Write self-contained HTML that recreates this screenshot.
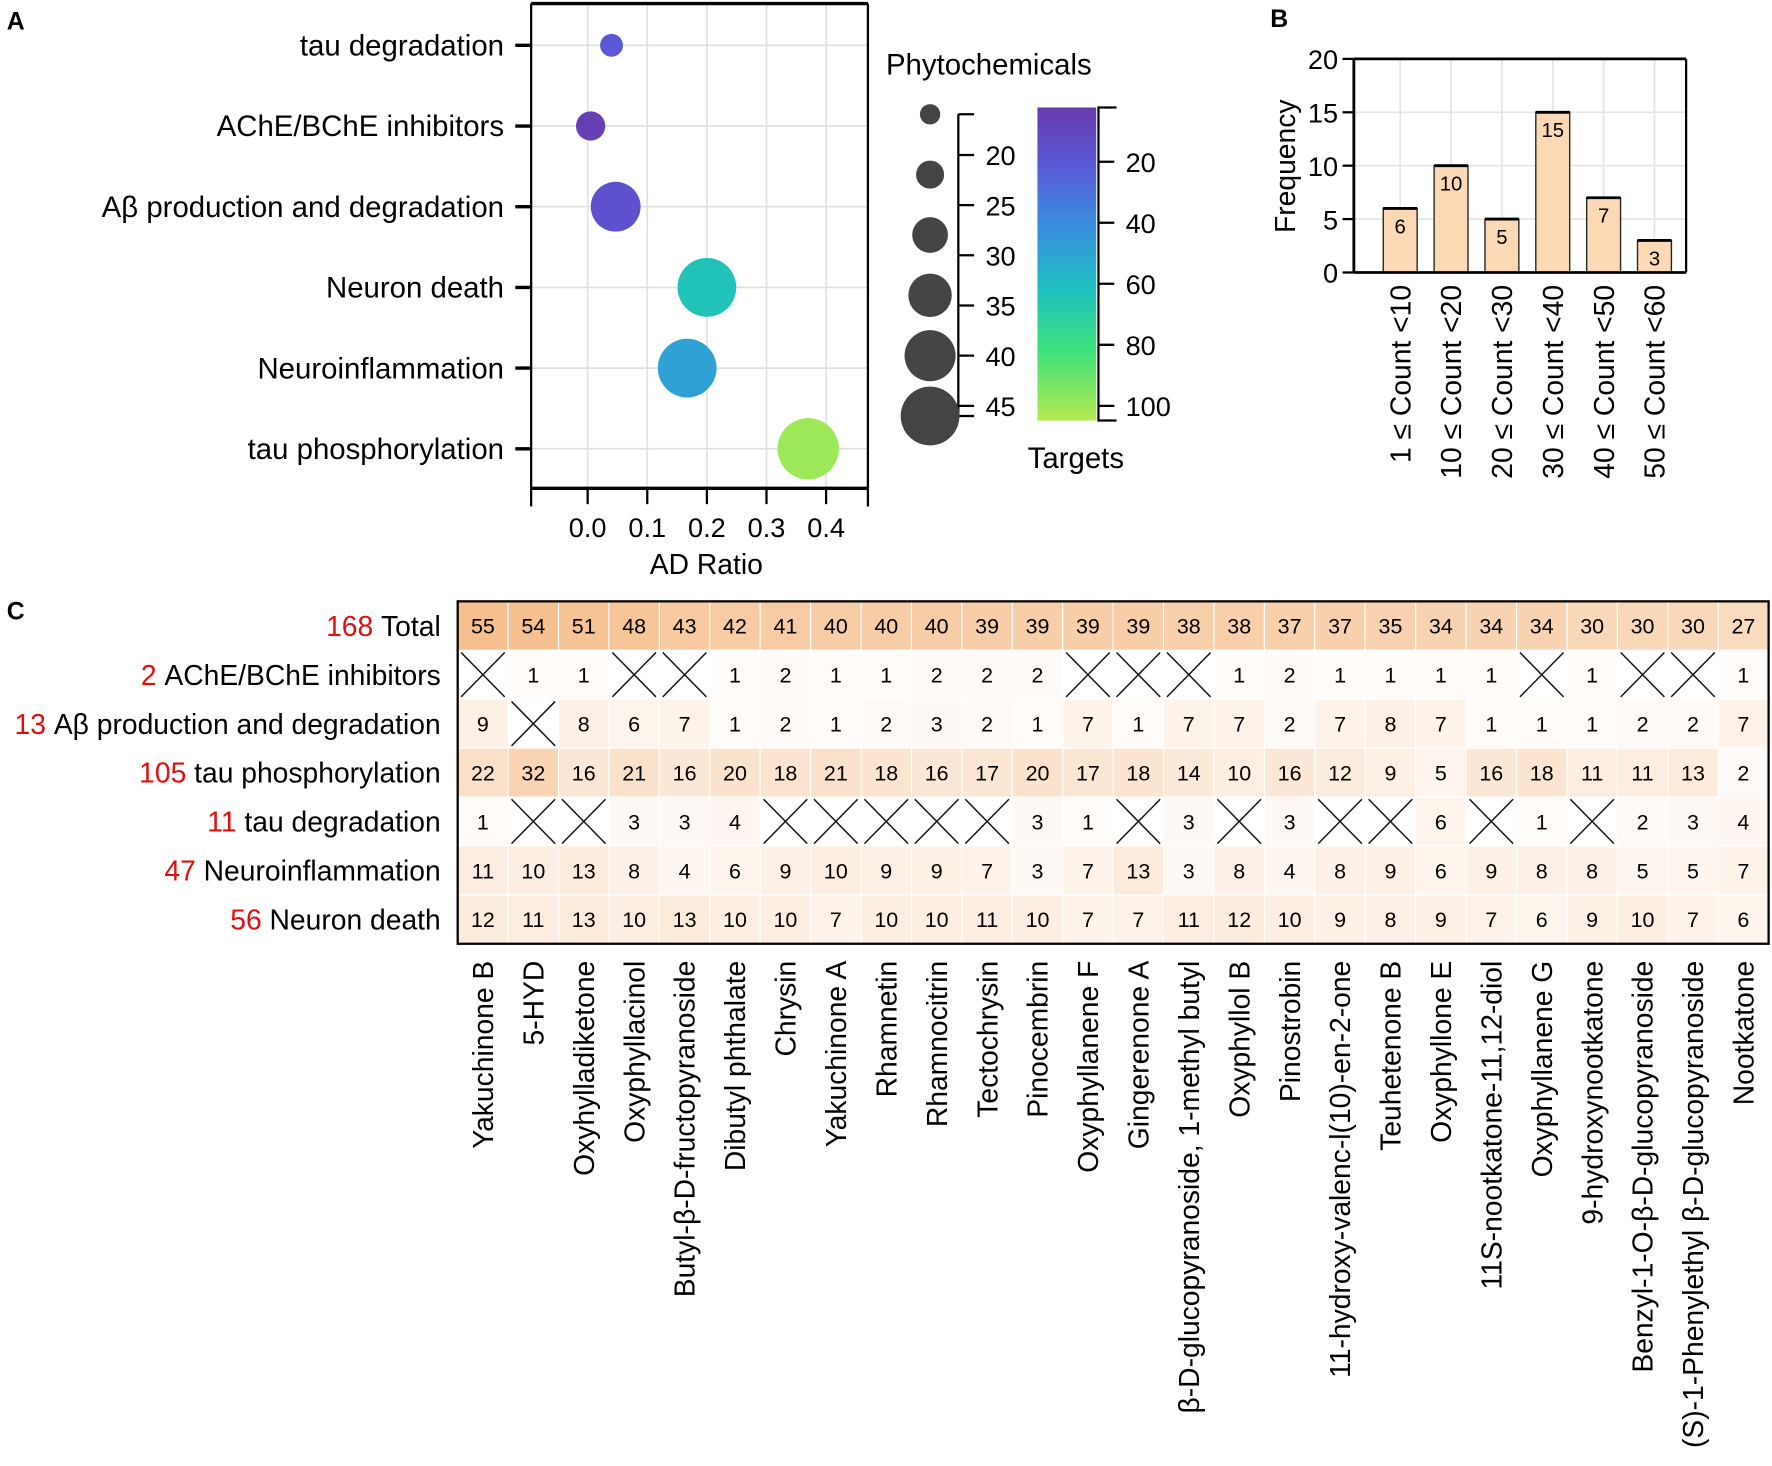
<!DOCTYPE html>
<html><head><meta charset="utf-8"><style>
html,body{margin:0;padding:0;background:#fff}
svg{display:block;font-family:"Liberation Sans",Arial,sans-serif}
</style></head><body>
<svg id="fig" width="1772" height="1466" viewBox="0 0 1568 1297" xmlns="http://www.w3.org/2000/svg">
<defs>
<linearGradient id="cbar" x1="0" y1="0" x2="0" y2="1">
<stop offset="0" stop-color="#6a3aae"/><stop offset="0.18" stop-color="#5a58d6"/><stop offset="0.38" stop-color="#3a8ee0"/><stop offset="0.58" stop-color="#1ec0c0"/><stop offset="0.78" stop-color="#3ee27a"/><stop offset="1" stop-color="#b4ea50"/>
</linearGradient>
</defs>
<g id="A"></g>
<g id="B"></g>
<g id="C"></g>
</svg>
<script>
// Panel A data
const aCategories=["tau degradation","AChE/BChE inhibitors","Aβ production and degradation","Neuron death","Neuroinflammation","tau phosphorylation"];
const aRatio=[0.04,0.005,0.047,0.2,0.167,0.37];
const aPhyto=[17,22,38,45,45,47];
const aTargets=[20,5,16,62,48,100];
const aXTicks=[0,0.1,0.2,0.3,0.4];
const sizeTicks=[20,25,30,35,40,45];
const sizeLegend=[15,21,27,33,39,45];
const colorTicks=[20,40,60,80,100];
// Panel B data
const bCategories=["1 ≤ Count <10","10 ≤ Count <20","20 ≤ Count <30","30 ≤ Count <40","40 ≤ Count <50","50 ≤ Count <60"];
const bFreq=[6,10,5,15,7,3];
const bYTicks=[0,5,10,15,20];
// Panel C data
const cRowNums=[168,2,13,105,11,47,56];
const cRowNames=["Total","AChE/BChE inhibitors","Aβ production and degradation","tau phosphorylation","tau degradation","Neuroinflammation","Neuron death"];
const cCols=["Yakuchinone B","5-HYD","Oxyhylladiketone","Oxyphyllacinol","Butyl-β-D-fructopyranoside","Dibutyl phthalate","Chrysin","Yakuchinone A","Rhamnetin","Rhamnocitrin","Tectochrysin","Pinocembrin","Oxyphyllanene F","Gingerenone A","β-D-glucopyranoside, 1-methyl butyl","Oxyphyllol B","Pinostrobin","11-hydroxy-valenc-l(10)-en-2-one","Teuhetenone B","Oxyphyllone E","11S-nootkatone-11,12-diol","Oxyphyllanene G","9-hydroxynootkatone","Benzyl-1-O-β-D-glucopyranoside","(S)-1-Phenylethyl β-D-glucopyranoside","Nootkatone"];
const rowTotal=[55,54,51,48,43,42,41,40,40,40,39,39,39,39,38,38,37,37,35,34,34,34,30,30,30,27];
const rowAChE=[null,1,1,null,null,1,2,1,1,2,2,2,null,null,null,1,2,1,1,1,1,null,1,null,null,1];
const rowAb=[9,null,8,6,7,1,2,1,2,3,2,1,7,1,7,7,2,7,8,7,1,1,1,2,2,7];
const rowTauP=[22,32,16,21,16,20,18,21,18,16,17,20,17,18,14,10,16,12,9,5,16,18,11,11,13,2];
const rowTauD=[1,null,null,3,3,4,null,null,null,null,null,3,1,null,3,null,3,null,null,6,null,1,null,2,3,4];
const rowNeuroinf=[11,10,13,8,4,6,9,10,9,9,7,3,7,13,3,8,4,8,9,6,9,8,8,5,5,7];
const rowNeuron=[12,11,13,10,13,10,10,7,10,10,11,10,7,7,11,12,10,9,8,9,7,6,9,10,7,6];

const NS="http://www.w3.org/2000/svg";
function mk(parent,tag,attrs,text){const e=document.createElementNS(NS,tag);for(const k in attrs)e.setAttribute(k,attrs[k]);if(text!==undefined)e.textContent=text;parent.appendChild(e);return e;}

// ---------- Panel A ----------
const A=document.getElementById('A');
let t=mk(A,'text',{x:6,y:26,'font-size':22,'font-weight':'bold'},'A');


const ax0=470,ax1=768,ay0=3,ay1=432;
const xA=v=>520+v*527.5;
const rowY=i=>40+i*71.4;
for(let i=0;i<aXTicks.length;i++){const g=mk(A,'line',{x1:xA(aXTicks[i]),x2:xA(aXTicks[i]),y1:ay0,y2:ay1,stroke:'#e0e0e0','stroke-width':1.5});

}
for(let i=0;i<aCategories.length;i++){const g=mk(A,'line',{x1:ax0,x2:ax1,y1:rowY(i),y2:rowY(i),stroke:'#e0e0e0','stroke-width':1.5});

}
mk(A,'line',{x1:ax0,x2:ax1,y1:ay0,y2:ay0,stroke:'#000','stroke-width':3});
mk(A,'line',{x1:ax0,x2:ax1,y1:ay1,y2:ay1,stroke:'#000','stroke-width':3});
mk(A,'line',{x1:ax0,x2:ax0,y1:ay0,y2:ay1,stroke:'#000','stroke-width':2});
mk(A,'line',{x1:ax1,x2:ax1,y1:ay0,y2:ay1,stroke:'#000','stroke-width':2});
[ax0,ax1].forEach(x=>mk(A,'line',{x1:x,x2:x,y1:ay1,y2:ay1+16,stroke:'#000','stroke-width':2}));
for(let i=0;i<aXTicks.length;i++){const x=xA(aXTicks[i]);
mk(A,'line',{x1:x,x2:x,y1:ay1,y2:ay1+14,stroke:'#000','stroke-width':2});
t=mk(A,'text',{x:x,y:475,'font-size':24,'text-anchor':'middle'},aXTicks[i].toFixed(1));

}
t=mk(A,'text',{x:625,y:508,'font-size':25,'text-anchor':'middle'},'AD Ratio');


const colorStops=[[2,[106,58,174]],[20,[90,88,214]],[40,[58,142,224]],[60,[30,192,192]],[80,[62,226,122]],[105,[180,234,80]]];
function colorOf(v){for(let i=0;i<colorStops.length-1;i++){const [a,ca]=colorStops[i],[b,cb]=colorStops[i+1];if(v<=b||i===colorStops.length-2){const f=Math.max(0,Math.min(1,(v-a)/(b-a)));return 'rgb('+ca.map((c,k)=>Math.round(c+(cb[k]-c)*f)).join(',')+')';}}}
const rSize=v=>9+(v-15)*17/30;
for(let i=0;i<aCategories.length;i++){const y=rowY(i);
mk(A,'line',{x1:456,x2:470,y1:y,y2:y,stroke:'#000','stroke-width':3});
t=mk(A,'text',{x:446,y:y+9,'font-size':26,'text-anchor':'end'},aCategories[i]);


const c=mk(A,'circle',{cx:xA(aRatio[i]),cy:y,r:rSize(aPhyto[i]),fill:colorOf(aTargets[i])});

}
// size legend
t=mk(A,'text',{x:875,y:66,'font-size':26,'text-anchor':'middle'},'Phytochemicals');


const sY=v=>137+(v-20)*8.88;
mk(A,'line',{x1:848,x2:848,y1:101,y2:368,stroke:'#000','stroke-width':2});
mk(A,'line',{x1:848,x2:862,y1:101,y2:101,stroke:'#000','stroke-width':2});
mk(A,'line',{x1:848,x2:862,y1:368,y2:368,stroke:'#000','stroke-width':2});
for(let i=0;i<sizeTicks.length;i++){const y=sY(sizeTicks[i]);
mk(A,'line',{x1:848,x2:862,y1:y,y2:y,stroke:'#000','stroke-width':2});
t=mk(A,'text',{x:872,y:y+9,'font-size':24},String(sizeTicks[i]));

}
for(let i=0;i<sizeLegend.length;i++){const c=mk(A,'circle',{cx:823,cy:101+i*53.4,r:rSize(sizeLegend[i]),fill:'#444'});

}
const cbY=v=>143+(v-20)*2.7;
const cb=mk(A,'rect',{x:918,y:95,width:52,height:277,fill:'url(#cbar)'});


mk(A,'line',{x1:972,x2:972,y1:94,y2:373,stroke:'#000','stroke-width':2});
mk(A,'line',{x1:972,x2:988,y1:95,y2:95,stroke:'#000','stroke-width':2});
mk(A,'line',{x1:972,x2:988,y1:372,y2:372,stroke:'#000','stroke-width':2});
for(let i=0;i<colorTicks.length;i++){const y=cbY(colorTicks[i]);
mk(A,'line',{x1:972,x2:986,y1:y,y2:y,stroke:'#000','stroke-width':2});
t=mk(A,'text',{x:996,y:y+9,'font-size':24},String(colorTicks[i]));

}
t=mk(A,'text',{x:952,y:414,'font-size':26,'text-anchor':'middle'},'Targets');



// ---------- Panel B ----------
const B=document.getElementById('B');
t=mk(B,'text',{x:1124,y:24,'font-size':22,'font-weight':'bold'},'B');


const bx0=1198,bx1=1492,by0=52,by1=241;
const yB=v=>by1-v*(by1-by0)/20;
const xB=i=>1239+i*45;
for(let i=0;i<bYTicks.length;i++){mk(B,'line',{x1:bx0,x2:bx1,y1:yB(bYTicks[i]),y2:yB(bYTicks[i]),stroke:'#e4e4e4','stroke-width':1.5});}
for(let i=0;i<bCategories.length;i++){mk(B,'line',{x1:xB(i),x2:xB(i),y1:by0,y2:by1,stroke:'#e4e4e4','stroke-width':1.5});}
mk(B,'line',{x1:bx0,x2:bx1,y1:by0,y2:by0,stroke:'#000','stroke-width':2.5});
mk(B,'line',{x1:bx1,x2:bx1,y1:by0,y2:by1,stroke:'#000','stroke-width':2});
for(let i=0;i<bCategories.length;i++){const x=xB(i),y=yB(bFreq[i]);
const r=mk(B,'rect',{x:x-15,y:y,width:30,height:by1-y,fill:'#fbd9b5',stroke:'#222','stroke-width':1.2});


mk(B,'line',{x1:x-15,x2:x+15,y1:y,y2:y,stroke:'#000','stroke-width':2.5});
t=mk(B,'text',{x:x,y:y+22,'font-size':18,'text-anchor':'middle'},String(bFreq[i]));


t=mk(B,'text',{x:x+9,y:252,'font-size':25,'text-anchor':'end',transform:'rotate(-90 '+(x+9)+' 252)'},bCategories[i]);

}
mk(B,'line',{x1:bx0,x2:bx0,y1:by0,y2:by1,stroke:'#000','stroke-width':2.5});
mk(B,'line',{x1:bx0,x2:bx1,y1:by1,y2:by1,stroke:'#000','stroke-width':2.5});
for(let i=0;i<bYTicks.length;i++){const y=yB(bYTicks[i]);
mk(B,'line',{x1:bx0-10,x2:bx0,y1:y,y2:y,stroke:'#000','stroke-width':2});
t=mk(B,'text',{x:bx0-14,y:y+9,'font-size':24,'text-anchor':'end'},String(bYTicks[i]));

}
t=mk(B,'text',{x:1146,y:147,'font-size':25,'text-anchor':'middle',transform:'rotate(-90 1146 147)'},'Frequency');



// ---------- Panel C ----------
const C=document.getElementById('C');
t=mk(C,'text',{x:6,y:548,'font-size':22,'font-weight':'bold'},'C');


const rows=[rowTotal,rowAChE,rowAb,rowTauP,rowTauD,rowNeuroinf,rowNeuron];
const cx0=405,cy0=532,cw=(1565-405)/26,ch=(835-532)/7;
function heat(v){const f=Math.min(1,v/56);const c0=[255,255,255],c1=[245,190,140];return 'rgb('+c0.map((c,k)=>Math.round(c+(c1[k]-c)*Math.pow(f,0.8))).join(',')+')';}
for(let r=0;r<rows.length;r++){
 const yc=cy0+r*ch+ch/2;
 const g=mk(C,'text',{x:390,y:yc+9,'font-size':25,'text-anchor':'end'});
 
 
 mk(g,'tspan',{fill:'#e01010'},cRowNums[r]+' ');
 mk(g,'tspan',{fill:'#000'},cRowNames[r]);
 for(let c=0;c<cCols.length;c++){
  const v=rows[r][c];const x=cx0+c*cw,y=cy0+r*ch;
  if(v===null){
   const l=mk(C,'path',{d:'M'+(x+3)+' '+(y+2)+'L'+(x+cw-3)+' '+(y+ch-2)+'M'+(x+cw-3)+' '+(y+2)+'L'+(x+3)+' '+(y+ch-2),stroke:'#111','stroke-width':1.3,fill:'none'});
   
   
  } else {
   const rc=mk(C,'rect',{x:x,y:y,width:cw,height:ch,fill:heat(v),stroke:'#fff','stroke-width':1});
   
   
   t=mk(C,'text',{x:x+cw/2,y:y+ch/2+7,'font-size':19,'text-anchor':'middle'},String(v));
   
   
  }
 }
}
mk(C,'rect',{x:cx0,y:cy0,width:1565-405,height:835-532,fill:'none',stroke:'#000','stroke-width':2});
for(let c=0;c<cCols.length;c++){const x=cx0+c*cw+cw/2+9;
t=mk(C,'text',{x:x,y:850,'font-size':25,'text-anchor':'end',transform:'rotate(-90 '+x+' 850)'},cCols[c]);

}
</script>
</body></html>
